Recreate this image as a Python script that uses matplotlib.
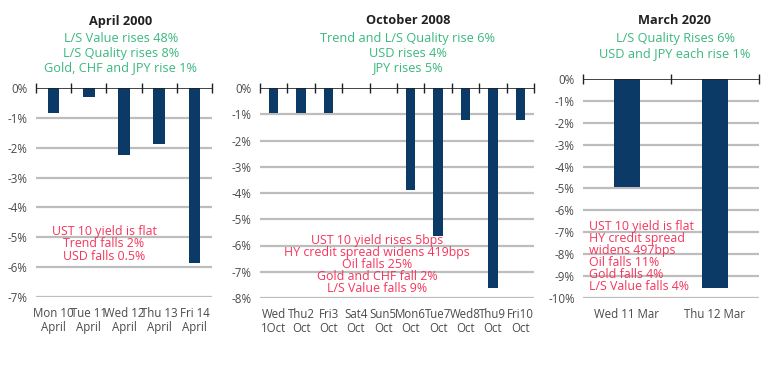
import numpy as np
import matplotlib
matplotlib.use("Agg")
import matplotlib.pyplot as plt

# Panel data
apr_labels = ["Mon 10\nApril", "Tue 11\nApril", "Wed 12\nApril", "Thu 13\nApril", "Fri 14\nApril"]
apr_values = [-0.85, -0.3, -2.25, -1.87, -5.85]

oct_labels = ["Wed\n1Oct", "Thu2\nOct", "Fri3\nOct", "Sat4\nOct", "Sun5\nOct",
              "Mon6\nOct", "Tue7\nOct", "Wed8\nOct", "Thu9\nOct", "Fri10\nOct"]
oct_values = [-0.95, -0.95, -0.95, 0.0, 0.0, -3.9, -5.65, -1.2, -7.62, -1.2]

mar_labels = ["Wed 11 Mar", "Thu 12 Mar"]
mar_values = [-4.93, -9.55]

titles = ["April 2000", "October 2008", "March 2020"]
green_notes = [
    "L/S Value rises 48%\nL/S Quality rises 8%\nGold, CHF and JPY rise 1%",
    "Trend and L/S Quality rise 6%\nUSD rises 4%\nJPY rises 5%",
    "L/S Quality Rises 6%\nUSD and JPY each rise 1%",
]
red_notes = [
    "UST 10 yield is flat\nTrend falls 2%\nUSD falls 0.5%",
    "UST 10 yield rises 5bps\nHY credit spread widens 419bps\nOil falls 25%\nGold and CHF fall 2%\nL/S Value falls 9%",
    "UST 10 yield is flat\nHY credit spread\nwidens 497bps\nOil falls 11%\nGold falls 4%\nL/S Value falls 4%",
]

BAR = "#0b3a66"
GREEN = "#3bb87f"
RED = "#f5365c"
GRID = "#bdbdbd"
TXT = "#4a4a4a"

plt.rcParams["font.family"] = ["Open Sans", "DejaVu Sans"]

W, H = 770, 376
fig = plt.figure(figsize=(W / 100, H / 100), dpi=100)


def px(x, y):
    return x / W, 1 - y / H


def panel(rect, labels, values, ymin, width):
    left, top, right, bottom = rect
    ax = fig.add_axes([left / W, 1 - bottom / H, (right - left) / W, (bottom - top) / H])
    n = len(values)
    x = np.arange(n)
    ax.bar(x, values, width=width, color=BAR, zorder=3)
    ax.set_xlim(-0.5, n - 0.5)
    ax.set_ylim(ymin, 0)
    yt = np.arange(0, ymin - 1, -1)
    ax.set_yticks(yt)
    ax.set_yticklabels([f"{int(v)}%" for v in yt])
    for v in yt[1:]:
        ax.axhline(v, color=GRID, lw=1.6, zorder=1)
    ax.axhline(0, color="#222222", lw=1.2, zorder=4)
    ax.set_xticks(x)
    ax.set_xticklabels(labels, linespacing=1.15)
    ax.set_xticks(np.arange(n + 1) - 0.5, minor=True)
    ax.tick_params(which="minor", top=True, bottom=False, direction="inout",
                   length=7, width=1.0, color="#222222")
    ax.tick_params(which="major", length=0, labelsize=8.3, labelcolor=TXT, pad=6)
    ax.tick_params(axis="x", which="major", pad=7)
    for s in ax.spines.values():
        s.set_visible(False)
    ax.set_facecolor("none")
    return ax


panel((36, 88, 212, 297), apr_labels, apr_values, -7, 0.33)
panel((260, 88, 534, 298), oct_labels, oct_values, -8, 0.35)
panel((583, 79, 759, 298), mar_labels, mar_values, -10, 0.3)

# Titles and notes
for cx, t in zip([121, 408, 675], titles):
    fig.text(*px(cx, 21), t, ha="center", va="center", fontsize=9.2,
             fontweight="bold", color="#222222")

for cx, note in zip([121, 408, 675], green_notes):
    fig.text(*px(cx, 32), note, ha="center", va="top", fontsize=9.2,
             color=GREEN, linespacing=1.16)

fig.text(*px(104, 225), red_notes[0], ha="center", va="top", fontsize=8.9,
         color=RED, linespacing=0.93)
fig.text(*px(377, 234), red_notes[1], ha="center", va="top", fontsize=8.9,
         color=RED, linespacing=0.9)
fig.text(*px(589, 220), red_notes[2], ha="left", va="top", fontsize=8.9,
         color=RED, linespacing=0.9)

fig.savefig("out.png", dpi=100)
